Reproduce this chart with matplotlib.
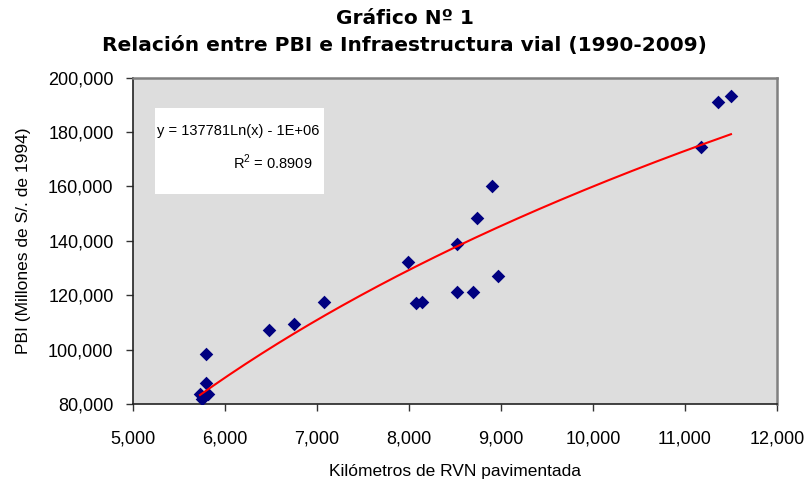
import matplotlib
matplotlib.use('Agg')
import matplotlib.pyplot as plt
import matplotlib.patches as mpatches
from matplotlib.ticker import FuncFormatter
import numpy as np

# Km of paved national road network (RVN) vs GDP, 1990-2009
km_rvn = [11500, 11359, 11174, 8902, 8739, 8522, 7989, 8967, 8522, 8696,
          8076, 8138, 7076, 6750, 6478, 5793, 5793, 5728, 5815, 5750]
pbi = [193200, 191000, 174400, 160100, 148300, 138800, 132200, 127000, 121100, 121100,
       117100, 117400, 117500, 109400, 107200, 98300, 87700, 83600, 83600, 81800]

eq_text = 'y = 137781Ln(x) - 1E+06'
r2_text = 'R$^2$ = 0.8909'

plt.rcParams['font.family'] = ['Liberation Sans', 'DejaVu Sans']
plt.rcParams['mathtext.fontset'] = 'custom'
plt.rcParams['mathtext.rm'] = 'Liberation Sans'

x = np.array(km_rvn, dtype=float)
y = np.array(pbi, dtype=float)

fig = plt.figure(figsize=(8.08, 4.88), dpi=100)
ax = fig.add_axes([0.1646, 0.1721, 0.797, 0.669])
ax.set_facecolor('#DDDDDD')

ax.scatter(x, y, marker='D', s=48, color='#000080', zorder=3, linewidths=0)

# logarithmic trend line
b, a = np.polyfit(np.log(x), y, 1)
xs = np.linspace(x.min(), x.max(), 200)
ax.plot(xs, b * np.log(xs) + a, color='red', lw=1.5, zorder=4)

ax.set_xlim(5000, 12000)
ax.set_ylim(80000, 200000)
ax.set_xticks(np.arange(5000, 12001, 1000))
ax.set_yticks(np.arange(80000, 200001, 20000))
fmt = FuncFormatter(lambda v, p: f'{int(v):,}')
ax.xaxis.set_major_formatter(fmt)
ax.yaxis.set_major_formatter(fmt)
ax.tick_params(labelsize=13, length=5, width=1, color='#333333')
ax.tick_params(axis='x', pad=14)
ax.tick_params(axis='y', pad=9)

for s in ['top', 'right']:
    ax.spines[s].set_color('#808080')
    ax.spines[s].set_linewidth(1.8)
for s in ['left', 'bottom']:
    ax.spines[s].set_color('#222222')
    ax.spines[s].set_linewidth(1.2)

ax.set_xlabel('Kilómetros de RVN pavimentada', fontsize=12.5, labelpad=12)
ax.set_ylabel('PBI (Millones de S/. de 1994)', fontsize=12.5, labelpad=12)

fig.text(0.501, 0.963, 'Gráfico Nº 1', ha='center', va='center',
         fontsize=14.5, fontweight='bold', family='DejaVu Sans')
fig.text(0.501, 0.906, 'Relación entre PBI e Infraestructura vial (1990-2009)',
         ha='center', va='center', fontsize=14.5, fontweight='bold', family='DejaVu Sans')

box = mpatches.Rectangle((0.034, 0.643), 0.262, 0.264, transform=ax.transAxes,
                         facecolor='white', edgecolor='none', zorder=5)
ax.add_patch(box)
ax.text(0.1635, 0.836, eq_text, transform=ax.transAxes, ha='center', va='center',
        fontsize=10.5, zorder=6)
ax.text(0.2795, 0.741, r2_text, transform=ax.transAxes, ha='right', va='center',
        fontsize=10.5, zorder=6)

fig.savefig('out.png', dpi=100)
